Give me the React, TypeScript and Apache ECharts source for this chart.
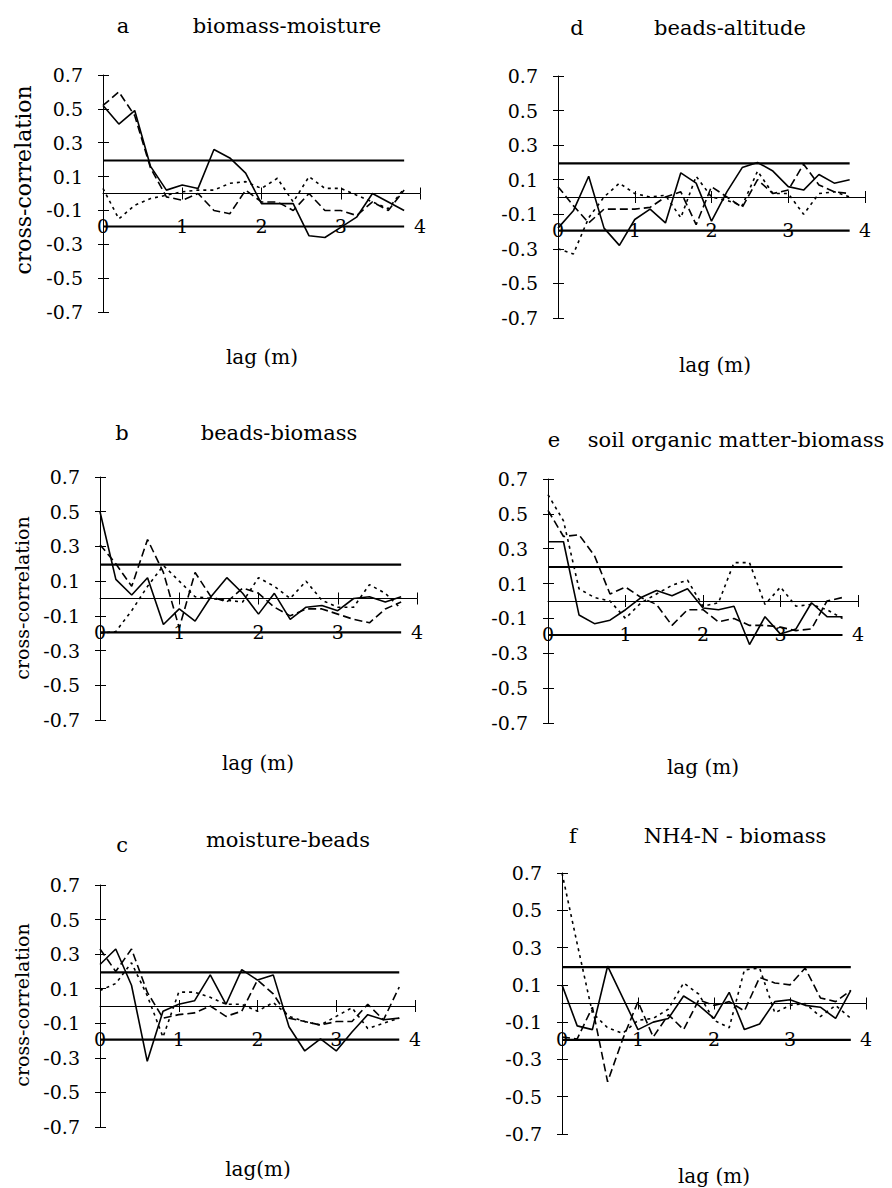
import React, { useEffect, useRef } from "react";
import * as echarts from "echarts";

// lag (m) of every point
const LAGS = [0, 0.2, 0.4, 0.6, 0.8, 1.0, 1.2, 1.4, 1.6, 1.8, 2.0, 2.2, 2.4, 2.6, 2.8, 3.0, 3.2, 3.4, 3.6, 3.8];
const X_TICKS = [0, 1, 2, 3, 4];
const Y_TICKS = [-0.7, -0.5, -0.3, -0.1, 0.1, 0.3, 0.5, 0.7];
const BOUND = 0.195;
const X_LABEL_LEVEL = -0.2; // x tick labels sit on this level in the original figure

// a  biomass-moisture
const aSolid = [0.52, 0.41, 0.49, 0.16, 0.02, 0.05, 0.03, 0.26, 0.21, 0.12, -0.06, -0.06, -0.06, -0.25, -0.26, -0.2, -0.14, 0.0, -0.05, -0.1];
const aDashed = [0.52, 0.6, 0.46, 0.15, -0.02, -0.04, 0.0, -0.1, -0.12, 0.02, -0.05, -0.05, -0.1, 0.0, -0.1, -0.1, -0.13, -0.05, -0.1, 0.02];
const aDotted = [0.03, -0.15, -0.07, -0.03, -0.01, 0.01, 0.02, 0.02, 0.06, 0.07, 0.03, 0.09, -0.05, 0.1, 0.03, 0.03, -0.01, -0.05, -0.09, 0.03];

// d  beads-altitude
const dSolid = [-0.18, -0.08, 0.12, -0.18, -0.28, -0.13, -0.07, -0.15, 0.14, 0.08, -0.14, 0.03, 0.17, 0.2, 0.15, 0.06, 0.04, 0.13, 0.08, 0.1];
const dDashed = [0.06, -0.05, -0.15, -0.07, -0.07, -0.07, -0.06, 0.0, 0.03, -0.16, 0.06, 0.0, -0.06, 0.1, 0.02, 0.04, 0.19, 0.07, 0.03, 0.02];
const dDotted = [-0.3, -0.33, -0.12, 0.0, 0.08, 0.02, 0.0, 0.01, -0.12, 0.12, 0.0, -0.02, -0.05, 0.15, 0.02, 0.02, -0.1, 0.02, 0.03, 0.0];

// b  beads-biomass
const bSolid = [0.5, 0.11, 0.02, 0.12, -0.15, -0.06, -0.13, 0.01, 0.12, 0.03, -0.09, 0.03, -0.12, -0.05, -0.04, -0.07, 0.0, 0.01, -0.02, 0.01];
const bDashed = [0.31, 0.2, 0.07, 0.34, 0.15, -0.17, 0.15, 0.01, -0.02, 0.06, 0.03, -0.05, -0.1, -0.06, -0.06, -0.09, -0.12, -0.14, -0.06, -0.02];
const bDotted = [-0.2, -0.19, -0.07, 0.07, 0.19, 0.1, 0.01, 0.0, -0.01, -0.02, 0.12, 0.07, 0.0, 0.1, -0.01, -0.05, -0.05, 0.08, 0.03, -0.06];

// e  soil organic matter-biomass
const eSolid = [0.34, 0.34, -0.08, -0.13, -0.11, -0.05, 0.02, 0.06, 0.03, 0.07, -0.04, -0.05, -0.03, -0.25, -0.09, -0.19, -0.16, -0.01, -0.09, -0.09];
const eDashed = [0.52, 0.37, 0.38, 0.26, 0.04, 0.08, 0.02, -0.02, -0.14, -0.05, -0.05, -0.12, -0.1, -0.14, -0.14, -0.15, -0.17, -0.16, 0.0, 0.02];
const eDotted = [0.61, 0.46, 0.07, 0.02, 0.0, -0.1, -0.01, 0.04, 0.09, 0.12, -0.03, -0.01, 0.22, 0.22, -0.02, 0.08, -0.03, -0.02, -0.05, -0.1];

// c  moisture-beads
const cSolid = [0.24, 0.33, 0.12, -0.32, -0.03, 0.01, 0.03, 0.18, 0.01, 0.21, 0.15, 0.18, -0.12, -0.26, -0.19, -0.26, -0.15, -0.05, -0.08, -0.07];
const cDashed = [0.33, 0.2, 0.33, 0.08, -0.07, -0.05, -0.04, 0.0, -0.06, -0.03, 0.15, 0.07, -0.07, -0.09, -0.11, -0.09, -0.09, 0.01, -0.08, 0.11];
const cDotted = [0.09, 0.13, 0.25, 0.06, -0.18, 0.08, 0.08, 0.05, 0.01, 0.01, -0.03, 0.02, -0.06, -0.09, -0.11, -0.06, -0.01, -0.13, -0.1, -0.07];

// f  NH4-N - biomass
const fSolid = [0.1, -0.12, -0.14, 0.2, 0.03, -0.14, -0.1, -0.08, 0.04, -0.01, -0.08, 0.06, -0.14, -0.11, 0.01, 0.02, -0.01, -0.02, -0.08, 0.07];
const fDashed = [-0.18, -0.19, -0.02, -0.42, -0.19, 0.01, -0.18, -0.06, -0.14, 0.02, -0.01, 0.01, -0.04, 0.14, 0.11, 0.1, 0.19, 0.03, 0.01, 0.07];
const fDotted = [0.7, 0.32, -0.05, -0.13, -0.16, -0.09, -0.08, -0.03, 0.11, 0.05, -0.09, -0.13, 0.18, 0.19, -0.05, -0.01, 0.0, -0.07, -0.01, -0.08];

const LETTERS = ["a", "d", "b", "e", "c", "f"];
const TITLES = ["biomass-moisture", "beads-altitude", "beads-biomass", "soil organic matter-biomass", "moisture-beads", "NH4-N - biomass"];
const X_NAMES = ["lag (m)", "lag (m)", "lag (m)", "lag (m)", "lag(m)", "lag (m)"];
const Y_NAME = "cross-correlation";
const SOLIDS = [aSolid, dSolid, bSolid, eSolid, cSolid, fSolid];
const DASHEDS = [aDashed, dDashed, bDashed, eDashed, cDashed, fDashed];
const DOTTEDS = [aDotted, dDotted, bDotted, eDotted, cDotted, fDotted];

// layout (pixels)
const GRIDS = [
  { left: 103, top: 75, width: 317, height: 237 },
  { left: 558, top: 76, width: 307, height: 242 },
  { left: 100, top: 477, width: 317, height: 243 },
  { left: 548, top: 479, width: 310, height: 244 },
  { left: 100, top: 885, width: 315, height: 242 },
  { left: 562, top: 873, width: 304, height: 261 },
];
const LETTER_POS = [[123, 26], [577, 28], [122, 433], [554, 440], [122, 845], [573, 836]];
const TITLE_POS = [[287, 26], [730, 28], [279, 433], [736, 440], [288, 840], [735, 836]];
const XNAME_POS = [[262, 357], [715, 365], [258, 763], [703, 767], [258, 1169], [714, 1176]];
const YNAME_POS: (number[] | null)[] = [[23, 180, 22], null, [22, 598, 19], null, [22, 1005, 19], null];

const FONT = '"DejaVu Serif", "Liberation Serif", serif';
const BLACK = "#000";
const TICK_FONT = 19;

function buildOption() {
  const grid: any[] = [];
  const xAxis: any[] = [];
  const yAxis: any[] = [];
  const series: any[] = [];
  const graphic: any[] = [];

  GRIDS.forEach((g, i) => {
    grid.push({ ...g, containLabel: false });
    const yi = 2 * i;
    const baseX = {
      type: "value",
      gridIndex: i,
      min: X_TICKS[0],
      max: X_TICKS[X_TICKS.length - 1],
      interval: 1,
      position: "bottom",
      splitLine: { show: false },
    };
    // labels-only axis at the grid bottom, labels pulled up to the -0.2 level
    const yMin = Y_TICKS[0];
    const yMax = Y_TICKS[Y_TICKS.length - 1];
    const dist = ((X_LABEL_LEVEL - yMin) / (yMax - yMin)) * g.height;
    xAxis.push({
      ...baseX,
      axisLine: { show: false, onZero: false },
      axisTick: { show: false },
      axisLabel: {
        show: true,
        margin: -dist - 11,
        color: BLACK,
        fontFamily: FONT,
        fontSize: TICK_FONT,
        formatter: (v: number) => String(v),
      },
    });
    // axis line at zero with outward ticks
    xAxis.push({
      ...baseX,
      axisLine: { show: true, onZero: true, onZeroAxisIndex: yi, lineStyle: { color: BLACK, width: 1 } },
      axisTick: { show: true, inside: false, length: 6, lineStyle: { color: BLACK, width: 1 } },
      axisLabel: { show: false },
    });
    // inward ticks at zero
    xAxis.push({
      ...baseX,
      axisLine: { show: false, onZero: true, onZeroAxisIndex: yi },
      axisTick: { show: true, inside: true, length: 6, lineStyle: { color: BLACK, width: 1 } },
      axisLabel: { show: false },
    });
    const baseY = {
      type: "value",
      gridIndex: i,
      min: yMin,
      max: yMax,
      interval: 0.2,
      position: "left",
      splitLine: { show: false },
    };
    yAxis.push({
      ...baseY,
      axisLine: { show: true, onZero: false, lineStyle: { color: BLACK, width: 1 } },
      axisTick: { show: true, inside: false, length: 5, lineStyle: { color: BLACK, width: 1 } },
      axisLabel: { show: true, margin: 20, color: BLACK, fontFamily: FONT, fontSize: TICK_FONT, formatter: (v: number) => v.toFixed(1) },
    });
    yAxis.push({
      ...baseY,
      axisLine: { show: false, onZero: false },
      axisTick: { show: true, inside: true, length: 6, lineStyle: { color: BLACK, width: 1 } },
      axisLabel: { show: false },
    });

    const mk = (arr: number[]) => LAGS.map((x, k) => [x, arr[k]]);
    const common = { type: "line", xAxisIndex: 3 * i, yAxisIndex: yi, symbol: "none", silent: true, clip: false };
    series.push({ ...common, data: mk(SOLIDS[i]), lineStyle: { color: BLACK, width: 1.6, type: "solid" } });
    series.push({ ...common, data: mk(DASHEDS[i]), lineStyle: { color: BLACK, width: 1.6, type: [8, 4] } });
    series.push({ ...common, data: mk(DOTTEDS[i]), lineStyle: { color: BLACK, width: 1.6, type: [3, 4] } });
    const lastLag = LAGS[LAGS.length - 1];
    series.push({ ...common, data: [[0, BOUND], [lastLag, BOUND]], lineStyle: { color: BLACK, width: 2.2 } });
    series.push({ ...common, data: [[0, -BOUND], [lastLag, -BOUND]], lineStyle: { color: BLACK, width: 2.2 } });

    const txt = (x: number, y: number, text: string, size: number, extra: any = {}) => ({
      type: "text",
      x,
      y,
      ...extra,
      style: {
        text,
        fill: BLACK,
        fontFamily: FONT,
        fontSize: size,
        align: "center",
        verticalAlign: "middle",
        textAlign: "center",
        textVerticalAlign: "middle",
      },
    });
    graphic.push(txt(LETTER_POS[i][0], LETTER_POS[i][1], LETTERS[i], 21));
    graphic.push(txt(TITLE_POS[i][0], TITLE_POS[i][1], TITLES[i], 21));
    graphic.push(txt(XNAME_POS[i][0], XNAME_POS[i][1], X_NAMES[i], 20));
    const yp = YNAME_POS[i];
    if (yp) graphic.push(txt(yp[0], yp[1], Y_NAME, yp[2], { rotation: Math.PI / 2 }));
  });

  return {
    animation: false,
    backgroundColor: "#fff",
    grid,
    xAxis,
    yAxis,
    series,
    graphic,
  };
}

export default function App() {
  const ref = useRef<HTMLDivElement>(null);
  useEffect(() => {
    if (!ref.current) return;
    const chart = echarts.init(ref.current, undefined, { renderer: "svg" });
    chart.setOption(buildOption() as any);
    return () => chart.dispose();
  }, []);
  return (
    <div
      ref={ref}
      style={{ position: "absolute", left: 0, top: 0, width: 892, height: 1188, background: "#fff" }}
    />
  );
}
